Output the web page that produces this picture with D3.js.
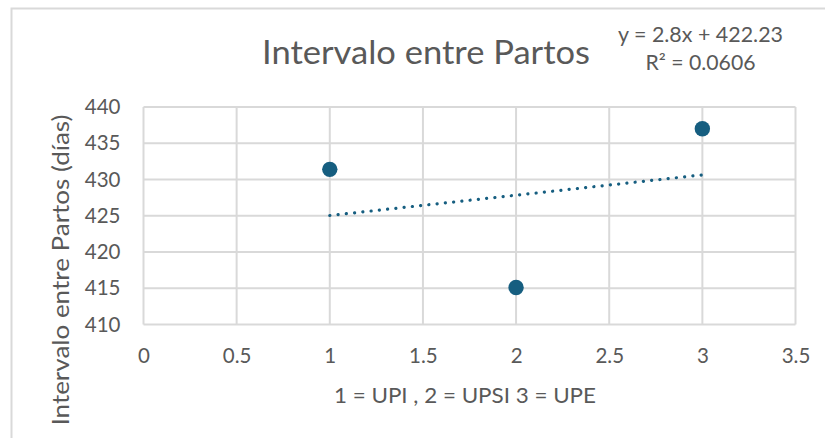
<!DOCTYPE html>
<html>
<head>
<meta charset="utf-8">
<script src="https://cdn.jsdelivr.net/npm/d3@7"></script>
<style>
  html, body { margin: 0; padding: 0; background: #fff; }
  svg { display: block; font-family: Lato, "Open Sans", sans-serif; }
</style>
</head>
<body>
<svg id="chart" width="825" height="438"></svg>
<script>
// ---- data ----
const categories = [1, 2, 3];
const values = [431.4, 415.1, 437.0];
const xTickValues = [0, 0.5, 1, 1.5, 2, 2.5, 3, 3.5];
const yTickValues = [410, 415, 420, 425, 430, 435, 440];
const titleText = "Intervalo entre Partos";
const xAxisTitle = "1 = UPI , 2 = UPSI 3 = UPE";
const yAxisTitle = "Intervalo entre Partos (días)";
const equationLines = ["y = 2.8x + 422.23", "R² = 0.0606"];

// ---- layout ----
const svg = d3.select("#chart");
const plot = { left: 143.5, right: 795.5, top: 107, bottom: 324.5 };
const markColor = "#165e80";
const gridColor = "#d9d9d9";
const textColor = "#595959";

const x = d3.scaleLinear().domain([0, 3.5]).range([plot.left, plot.right]);
const y = d3.scaleLinear().domain([410, 440]).range([plot.bottom, plot.top]);

// chart border
svg.append("rect")
  .attr("x", 11.5).attr("y", 8.5)
  .attr("width", 900).attr("height", 500)
  .attr("fill", "none").attr("stroke", gridColor).attr("stroke-width", 2);

// gridlines
svg.append("g").selectAll("line.h").data(yTickValues).join("line")
  .attr("x1", plot.left).attr("x2", plot.right)
  .attr("y1", d => y(d)).attr("y2", d => y(d))
  .attr("stroke", gridColor).attr("stroke-width", 2);
svg.append("g").selectAll("line.v").data(xTickValues).join("line")
  .attr("y1", plot.top).attr("y2", plot.bottom)
  .attr("x1", d => x(d)).attr("x2", d => x(d))
  .attr("stroke", gridColor).attr("stroke-width", 2);

// axes (labels only)
const yAxis = svg.append("g")
  .attr("transform", `translate(${plot.left},0)`)
  .call(d3.axisLeft(y).tickValues(yTickValues).tickSize(0).tickPadding(23).tickFormat(d3.format("d")));
yAxis.select(".domain").remove();
yAxis.selectAll("text").attr("font-size", 20.5).attr("fill", textColor)
  .attr("font-family", "Lato, sans-serif");

const xAxis = svg.append("g")
  .attr("transform", `translate(0,${plot.bottom})`)
  .call(d3.axisBottom(x).tickValues(xTickValues).tickSize(0).tickPadding(24).tickFormat(d => String(d)));
xAxis.select(".domain").remove();
xAxis.selectAll("text").attr("font-size", 20.5).attr("fill", textColor)
  .attr("font-family", "Lato, sans-serif");

// trendline (least squares from data)
const mx = d3.mean(categories), my = d3.mean(values);
const slope = d3.sum(categories.map((c, i) => (c - mx) * (values[i] - my))) /
              d3.sum(categories.map(c => (c - mx) * (c - mx)));
const intercept = my - slope * mx;
const trendX = [d3.min(categories), d3.max(categories)];
svg.append("path")
  .datum(trendX)
  .attr("d", d3.line().x(d => x(d)).y(d => y(slope * d + intercept)))
  .attr("fill", "none").attr("stroke", markColor)
  .attr("stroke-width", 3.2).attr("stroke-linecap", "round")
  .attr("stroke-dasharray", "0.1 8.2");

// points
svg.append("g").selectAll("circle").data(categories).join("circle")
  .attr("cx", d => x(d)).attr("cy", (d, i) => y(values[i]))
  .attr("r", 7.7).attr("fill", markColor);

// title
svg.append("text").attr("x", 426).attr("y", 63.5).attr("text-anchor", "middle")
  .attr("font-size", 32).attr("fill", textColor)
  .attr("textLength", 328).attr("lengthAdjust", "spacingAndGlyphs")
  .text(titleText);

// equation
const eqWidths = [165, 110];
svg.append("g").selectAll("text").data(equationLines).join("text")
  .attr("x", 700.5).attr("y", (d, i) => 41.7 + i * 28.3)
  .attr("text-anchor", "middle").attr("font-size", 20.5).attr("fill", textColor)
  .attr("textLength", (d, i) => eqWidths[i]).attr("lengthAdjust", "spacingAndGlyphs")
  .text(d => d);

// axis titles
svg.append("text").attr("x", 465).attr("y", 403).attr("text-anchor", "middle")
  .attr("font-size", 21.5).attr("fill", textColor)
  .attr("textLength", 262).attr("lengthAdjust", "spacingAndGlyphs")
  .text(xAxisTitle);
svg.append("text").attr("transform", "translate(69,270) rotate(-90)")
  .attr("text-anchor", "middle").attr("font-size", 23).attr("fill", textColor)
  .attr("textLength", 311).attr("lengthAdjust", "spacingAndGlyphs")
  .text(yAxisTitle);
</script>
</body>
</html>
